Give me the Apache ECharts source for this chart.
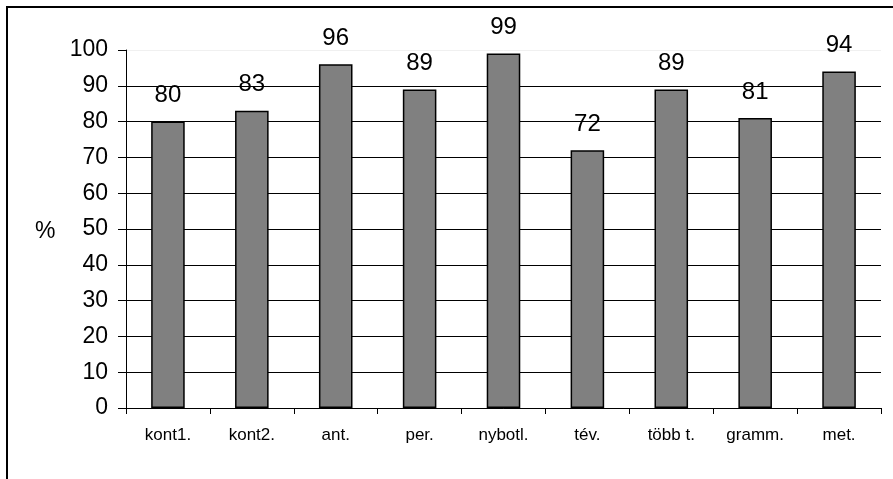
<!DOCTYPE html>
<html>
<head>
<meta charset="utf-8">
<script src="https://cdn.jsdelivr.net/npm/echarts@6/dist/echarts.min.js"></script>
<style>
  html, body { margin: 0; padding: 0; background: #fff; }
  #chart { width: 893px; height: 479px; }
</style>
</head>
<body>
<div id="chart"></div>
<script>
// Task categories and their success rates (%)
const categories = ['kont1.', 'kont2.', 'ant.', 'per.', 'nybotl.', 'tév.', 'több t.', 'gramm.', 'met.'];
const values = [80, 83, 96, 89, 99, 72, 89, 81, 94];
const yTicks = { min: 0, max: 100, step: 10 };

// Horizontal grid lines: dark, with the top one barely visible
const gridColors = [];
for (let v = yTicks.min; v <= yTicks.max; v += yTicks.step) {
  gridColors.push(v === yTicks.max ? '#f0f0f0' : '#000');
}

const chart = echarts.init(document.getElementById('chart'), null, { renderer: 'canvas' });
const font = '"Liberation Sans", Arial, sans-serif';

chart.setOption({
  animation: false,
  backgroundColor: '#fff',
  textStyle: { fontFamily: font },
  grid: { left: 126, right: 12, top: 50, bottom: 71, containLabel: false },
  graphic: [
    {
      type: 'rect',
      shape: { x: 7, y: 7, width: 1000, height: 1000 },
      style: { fill: 'none', stroke: '#000', lineWidth: 2 },
      silent: true
    },
    {
      type: 'text',
      left: 35,
      top: 220,
      style: { text: '%', font: '23px ' + font, fill: '#000' }
    }
  ],
  xAxis: {
    type: 'category',
    data: categories,
    boundaryGap: true,
    axisLine: { lineStyle: { color: '#000', width: 1 } },
    axisTick: { show: true, length: 6, inside: false, lineStyle: { color: '#000' } },
    axisLabel: { color: '#000', fontSize: 17, margin: 19, fontFamily: font, interval: 0 },
    splitLine: { show: false }
  },
  yAxis: {
    type: 'value',
    min: yTicks.min,
    max: yTicks.max,
    interval: yTicks.step,
    axisLine: { show: true, lineStyle: { color: '#000', width: 1 } },
    axisTick: { show: true, length: 8, lineStyle: { color: '#000' } },
    axisLabel: { color: '#000', fontSize: 23, margin: 18, fontFamily: font },
    splitLine: { show: true, lineStyle: { color: gridColors, width: 1 } }
  },
  series: [{
    type: 'bar',
    data: values,
    barWidth: '40%',
    itemStyle: { color: '#808080', borderColor: '#000', borderWidth: 1.5 },
    label: {
      show: true,
      position: 'top',
      distance: 14,
      color: '#000',
      fontSize: 24,
      fontFamily: font
    }
  }]
});
</script>
</body>
</html>
